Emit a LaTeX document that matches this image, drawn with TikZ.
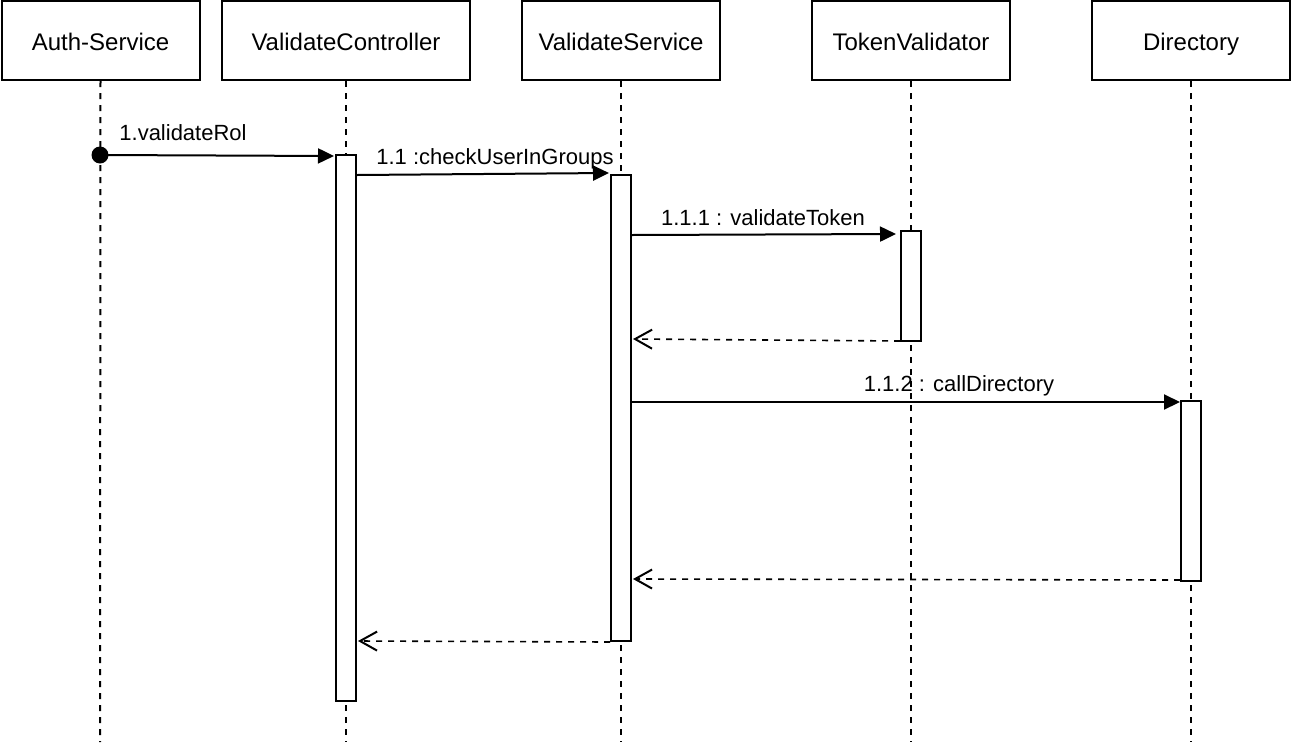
\documentclass[tikz,border=0pt]{standalone}
\usepackage{fontspec}
\setmainfont{Liberation Sans}
\usetikzlibrary{arrows.meta}
\tikzset{
  head/.style={draw, line width=2pt, minimum height=79pt, inner sep=0pt, text height=20pt, text depth=1pt, font=\fontsize{24}{28}\selectfont},
  actbar/.style={draw, fill=white, line width=2pt, minimum width=20pt, inner sep=0pt},
  lifeline/.style={line width=2pt, dash pattern=on 6pt off 6pt},
  callmsg/.style={line width=2pt, -{Triangle[length=16pt,width=15pt]}},
  retmsg/.style={line width=1.6pt, dash pattern=on 6pt off 6pt, -{Straight Barb[length=17pt,width=19pt,line width=2pt]}},
  msglabel/.style={anchor=base, inner sep=0pt, font=\fontsize{22}{26}\selectfont},
  startdot/.style={circle, fill=black, minimum size=17pt, inner sep=0pt}
}
\begin{document}
\begin{tikzpicture}[x=1pt,y=-1pt]
\useasboundingbox (0,0) rectangle (1292,742);
% headers
\node[head, minimum width=198pt] (auth) at (100.5,40.5) {Auth-Service};
\node[head, minimum width=248pt] (ctrl) at (346,40.5) {ValidateController};
\node[head, minimum width=198pt] (svc) at (621,40.5) {ValidateService};
\node[head, minimum width=198pt] (tok) at (911,40.5) {TokenValidator};
\node[head, minimum width=198pt] (dir) at (1191,40.5) {Directory};
% lifeline ends
\coordinate (authend) at (100,742);
\coordinate (ctrlend) at (346,742);
\coordinate (svcend) at (621,742);
\coordinate (tokend) at (911,742);
\coordinate (dirend) at (1191,742);
\draw[lifeline] (auth.south) -- (authend);
\draw[lifeline] (ctrl.south) -- (ctrlend);
\draw[lifeline] (svc.south) -- (svcend);
\draw[lifeline] (tok.south) -- (tokend);
\draw[lifeline] (dir.south) -- (dirend);
% activation bars
\node[actbar, minimum height=546pt] (cbar) at (346,428) {};
\node[actbar, minimum height=466pt] (sbar) at (621,408) {};
\node[actbar, minimum height=110pt] (tbar) at (911,286) {};
\node[actbar, minimum height=180pt] (dbar) at (1191,491) {};
% messages
\node[startdot] (start) at (100,155) {};
\draw[callmsg] (start.center) -- ([yshift=-2pt,xshift=-1pt]cbar.north west);
\node[msglabel] (l1) at (183,140) {1.validateRol};
\draw[callmsg] ([yshift=-21pt]cbar.north east) -- ([yshift=1pt,xshift=-1pt]sbar.north west);
\node[msglabel] (l2) at (495,164) {1.1 :checkUserInGroups};
\draw[callmsg] ([yshift=-61pt]sbar.north east) -- ([yshift=-4pt,xshift=-4pt]tbar.north west);
\node[msglabel] (l3) at (763,225) {1.1.1 : validateToken};
\draw[retmsg] ([yshift=1pt]tbar.south west) -- ([yshift=-165pt,xshift=1pt]sbar.north east);
\draw[callmsg] ([yshift=-228pt]sbar.north east) -- ([yshift=-2pt]dbar.north west);
\node[msglabel] (l4) at (959,391) {1.1.2 : callDirectory};
\draw[retmsg] ([yshift=2pt]dbar.south west) -- ([yshift=-405pt,xshift=1pt]sbar.north east);
\draw[retmsg] (sbar.south west) -- ([yshift=-487pt,xshift=1pt]cbar.north east);
\end{tikzpicture}
\end{document}
